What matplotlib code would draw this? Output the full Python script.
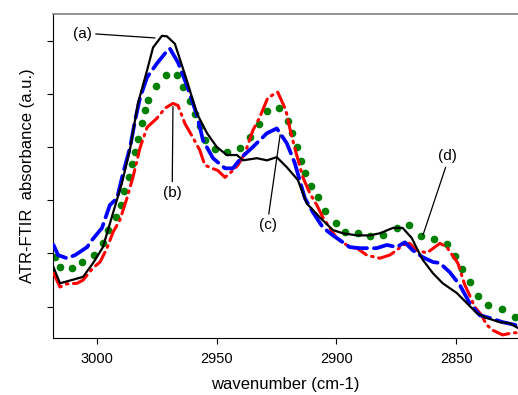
import matplotlib
matplotlib.use("Agg")
import matplotlib.pyplot as plt

plt.rcParams["font.family"] = ["Liberation Sans", "DejaVu Sans"]
plt.rcParams["lines.scale_dashes"] = False

# -----------------------------
# Data
# -----------------------------

# (a) black solid
wn_a = [3018, 3015.3, 3005.7, 3001.5, 2997.4, 2993.2, 2989.5, 2986.1, 2982.8, 2979.0,
        2976.5, 2972.8, 2970.7, 2967.4, 2962.4, 2958.2, 2954.0, 2949.9, 2945.7, 2941.5,
        2939.0, 2933.2, 2929.0, 2924.9, 2920.7, 2916.1, 2912.4, 2907.0, 2901.5, 2897.4,
        2891.5, 2886.1, 2881.9, 2876.5, 2872.4, 2868.6, 2866.1, 2864.0, 2859.8, 2855.7,
        2849.9, 2845.7, 2841.5, 2837.4, 2832.0, 2827.8, 2824.3]
abs_a = [0.074, 0.044, 0.056, 0.082, 0.112, 0.176, 0.232, 0.296, 0.382, 0.444,
         0.487, 0.509, 0.508, 0.494, 0.425, 0.363, 0.326, 0.300, 0.285, 0.285,
         0.275, 0.279, 0.275, 0.281, 0.262, 0.238, 0.194, 0.168, 0.144, 0.138,
         0.134, 0.134, 0.138, 0.148, 0.148, 0.129, 0.106, 0.088, 0.063, 0.044,
         0.026, 0.007, -0.012, -0.021, -0.029, -0.031, -0.040]

# (b) red dash-dot
wn_b = [3018, 3015.3, 3012.4, 3008.2, 3005.7, 3001.5, 2998.6, 2995.7, 2993.2, 2990.3,
        2987.4, 2984.9, 2981.9, 2979.0, 2974.9, 2971.5, 2968.2, 2966.1, 2963.2, 2959.9,
        2957.0, 2954.9, 2951.9, 2949.5, 2946.5, 2943.2, 2941.1, 2938.2, 2934.9, 2932.0,
        2928.6, 2924.5, 2921.1, 2919.0, 2916.9, 2914.0, 2911.1, 2908.2, 2905.7, 2902.8,
        2899.9, 2894.5, 2891.5, 2887.4, 2882.0, 2877.8, 2874.9, 2872.4, 2869.5, 2866.5,
        2862.3, 2856.9, 2854.0, 2849.4, 2846.5, 2844.5, 2842.4, 2839.5, 2837.4, 2834.9,
        2830.7, 2826.5, 2824.3]
abs_b = [0.063, 0.037, 0.043, 0.044, 0.050, 0.073, 0.084, 0.110, 0.140, 0.163,
         0.204, 0.243, 0.299, 0.337, 0.354, 0.373, 0.382, 0.378, 0.344, 0.318,
         0.294, 0.266, 0.260, 0.256, 0.243, 0.256, 0.266, 0.288, 0.331, 0.356,
         0.393, 0.403, 0.369, 0.326, 0.290, 0.243, 0.213, 0.191, 0.168, 0.148,
         0.129, 0.112, 0.110, 0.097, 0.091, 0.097, 0.106, 0.116, 0.119, 0.106,
         0.101, 0.119, 0.112, 0.082, 0.041, 0.022, 0.000, -0.016, -0.034, -0.044,
         -0.053, -0.049, -0.049]

# (c) blue dashed
wn_c = [3018, 3016.1, 3012.4, 3009.0, 3004.0, 3002.0, 2997.8, 2994.5, 2991.5, 2989.0,
        2986.1, 2984.0, 2981.9, 2979.0, 2974.9, 2971.5, 2969.5, 2966.1, 2962.4, 2958.2,
        2955.7, 2951.5, 2946.5, 2943.2, 2939.5, 2934.9, 2929.0, 2924.9, 2920.7, 2917.4,
        2913.2, 2909.9, 2905.7, 2901.5, 2898.6, 2894.5, 2890.3, 2883.2, 2879.0, 2874.9,
        2871.5, 2868.2, 2864.0, 2859.8, 2856.9, 2852.8, 2848.6, 2844.5, 2840.3, 2836.1,
        2830.7, 2825.7, 2824.3]
abs_c = [0.116, 0.097, 0.091, 0.097, 0.112, 0.125, 0.148, 0.191, 0.204, 0.251,
         0.299, 0.350, 0.393, 0.431, 0.457, 0.476, 0.485, 0.459, 0.416, 0.360,
         0.313, 0.279, 0.260, 0.260, 0.281, 0.300, 0.326, 0.335, 0.307, 0.270,
         0.204, 0.178, 0.149, 0.134, 0.125, 0.112, 0.110, 0.110, 0.116, 0.112,
         0.121, 0.106, 0.093, 0.084, 0.082, 0.065, 0.041, 0.007, -0.016, -0.021,
         -0.029, -0.034, -0.036]

# (d) green dots
wn_d = [3017.4, 3015.3, 3010.3, 3006.1, 3001.1, 2997.4, 2995.3, 2992.0, 2989.9, 2988.6,
        2986.5, 2985.3, 2984.0, 2982.8, 2981.1, 2979.9, 2978.6, 2975.3, 2971.1, 2966.5,
        2964.0, 2961.1, 2959.0, 2956.9, 2954.9, 2950.7, 2945.7, 2940.3, 2936.1, 2932.4,
        2929.0, 2924.0, 2920.3, 2918.6, 2916.5, 2914.9, 2913.2, 2910.7, 2907.8, 2904.9,
        2900.3, 2896.5, 2891.1, 2886.1, 2880.7, 2874.9, 2869.9, 2864.9, 2859.4, 2854.0,
        2850.7, 2847.8, 2844.5, 2841.1, 2837.0, 2831.1, 2825.7]
abs_d = [0.093, 0.074, 0.073, 0.084, 0.097, 0.119, 0.144, 0.168, 0.192, 0.217,
         0.243, 0.269, 0.290, 0.316, 0.346, 0.369, 0.389, 0.414, 0.435, 0.436,
         0.412, 0.386, 0.363, 0.339, 0.313, 0.296, 0.290, 0.298, 0.318, 0.343,
         0.367, 0.374, 0.348, 0.326, 0.300, 0.273, 0.251, 0.226, 0.206, 0.179,
         0.157, 0.140, 0.138, 0.133, 0.134, 0.148, 0.153, 0.133, 0.127, 0.117,
         0.095, 0.071, 0.046, 0.020, 0.003, -0.004, -0.019]

# labels: (text, text position, line end)
labels = ["(a)", "(b)", "(c)", "(d)"]
label_pos = [(3006.1, 0.513), (2968.5, 0.214), (2928.5, 0.153), (2853.9, 0.283)]
label_target = [(2975.7, 0.505), (2968.2, 0.376), (2923.5, 0.323), (2863.9, 0.135)]
label_rel = [(1.0, 0.5), (0.5, 1.0), (0.5, 1.0), (0.5, 0.0)]

x_ticks = [3000, 2950, 2900, 2850]
y_ticks = [0, 0.1, 0.2, 0.3, 0.4, 0.5]

# -----------------------------
# Plot
# -----------------------------

fig = plt.figure(figsize=(5.18, 3.95), dpi=100)
ax = fig.add_axes([0.1029, 0.1443, 0.8971, 0.8203])

ax.plot(wn_a, abs_a, color="black", lw=1.6, zorder=4)
ax.plot(wn_b, abs_b, color="#ff0000", lw=2.2, dashes=(12, 4, 1.2, 4),
        dash_capstyle="round", zorder=3)
ax.plot(wn_c, abs_c, color="#0000ff", lw=2.7, dashes=(14, 5),
        dash_capstyle="round", zorder=3)
ax.plot(wn_d, abs_d, "o", color="#008000", ms=5.5, mew=0, ls="none", zorder=2)

for txt, pos, tgt, rel in zip(labels, label_pos, label_target, label_rel):
    ax.annotate(
        txt,
        xy=tgt,
        xytext=pos,
        ha="center",
        va="center",
        fontsize=11,
        arrowprops=dict(arrowstyle="-", lw=0.9, color="black",
                        relpos=rel, shrinkA=1, shrinkB=0),
    )

ax.set_xlim(3018.1, 2824.3)
ax.set_ylim(-0.0588, 0.550)
ax.set_xticks(x_ticks)
ax.set_yticks(y_ticks)
ax.set_yticklabels([])
ax.tick_params(axis="both", direction="out", length=4, width=0.8, labelsize=10.5)
ax.tick_params(axis="x", pad=6)

ax.spines["right"].set_visible(False)
ax.spines["top"].set_color("#808080")
ax.spines["top"].set_linewidth(1.2)

ax.set_xlabel("wavenumber (cm-1)", fontsize=12, labelpad=8)
ax.set_ylabel("ATR-FTIR  absorbance (a.u.)", fontsize=12, labelpad=6)

plt.savefig("out.png", dpi=100)
